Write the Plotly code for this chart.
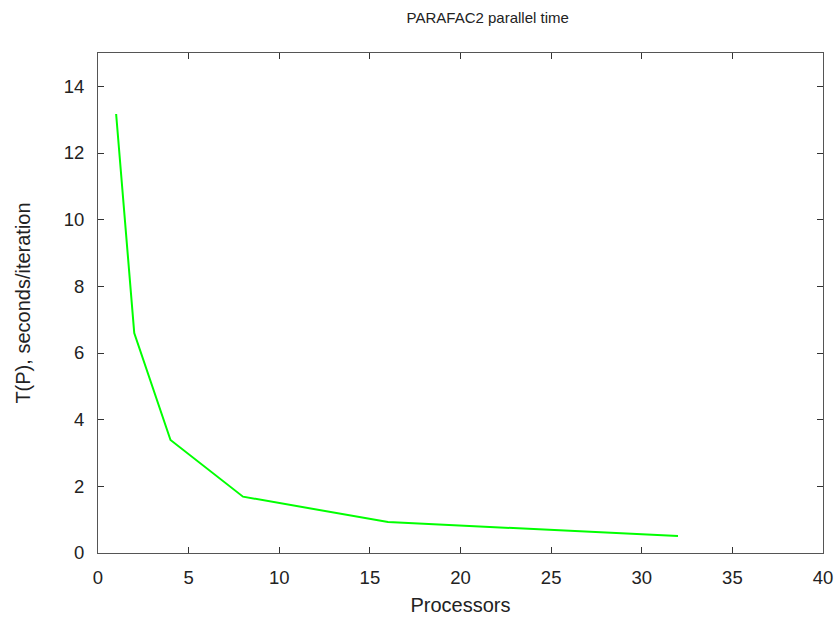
import plotly.graph_objects as go

processors = [1, 2, 4, 8, 16, 32]
time_per_iter = [13.17, 6.6, 3.39, 1.69, 0.93, 0.51]
x_ticks = [0, 5, 10, 15, 20, 25, 30, 35, 40]
y_ticks = [0, 2, 4, 6, 8, 10, 12, 14]

FONT = "Liberation Sans, Arial, sans-serif"

fig = go.Figure()
fig.add_trace(go.Scatter(x=processors, y=time_per_iter, mode="lines",
                         line=dict(color="#00ff00", width=2), showlegend=False,
                         hoverinfo="skip"))

axis_common = dict(showgrid=False, zeroline=False, showline=True, linecolor="#555555",
                   linewidth=1, mirror="allticks", ticks="inside", ticklen=6,
                   tickcolor="#333333", automargin=False,
                   tickfont=dict(family=FONT, size=18.5, color="#222"))
fig.update_xaxes(range=[0, 40], tickvals=x_ticks, ticklabelstandoff=8,
                 title=dict(text="Processors", font=dict(family=FONT, size=20, color="#222"), standoff=10),
                 **axis_common)
fig.update_yaxes(range=[0, 15], tickvals=y_ticks, ticklabelstandoff=9,
                 title=dict(text="T(P), seconds/iteration", font=dict(family=FONT, size=20, color="#222"), standoff=27),
                 **axis_common)
fig.update_layout(
    width=838, height=625,
    title=dict(text="PARAFAC2 parallel time", x=0.582, xref="container", xanchor="center",
               y=0.972, yref="container", yanchor="middle",
               font=dict(family=FONT, size=15, color="#222")),
    margin=dict(l=98, r=15, t=53, b=72),
    plot_bgcolor="white", paper_bgcolor="white",
)
fig.write_html("out.html", config={"displayModeBar": False},
               post_script="document.body.style.margin='0';document.body.style.overflow='hidden';")
